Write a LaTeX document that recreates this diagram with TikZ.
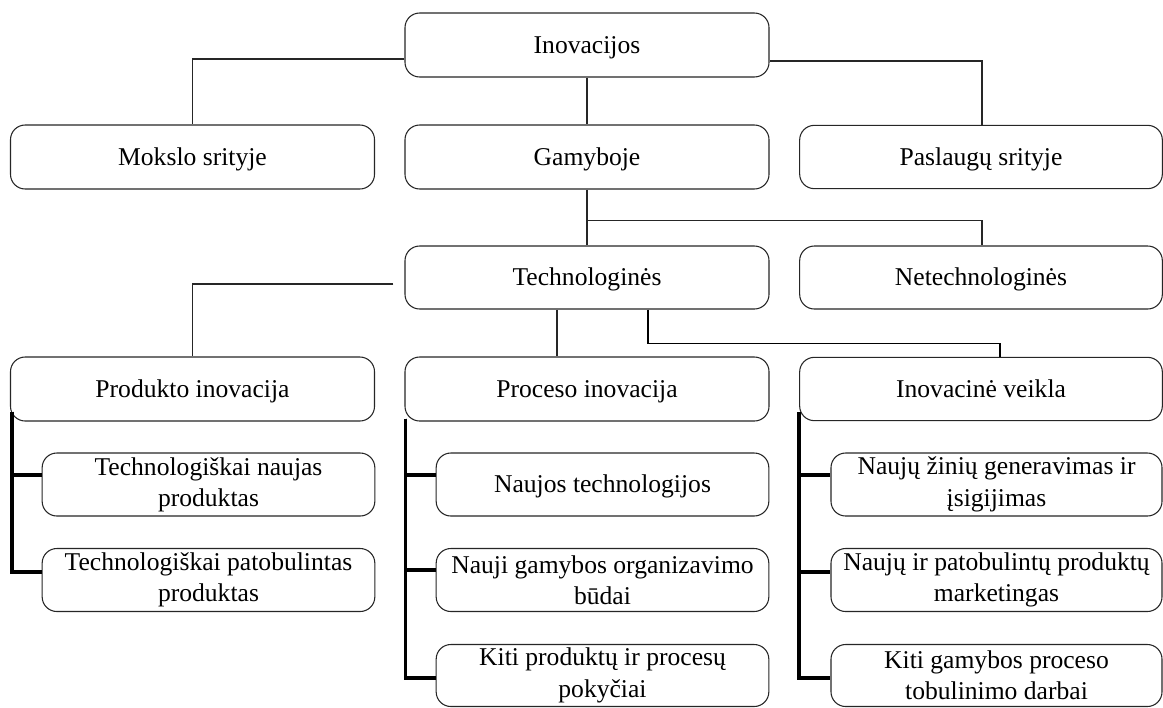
\documentclass[tikz,border=0pt]{standalone}
\usepackage{fontspec}
\setmainfont{Liberation Serif}
\usetikzlibrary{calc}
\begin{document}
\begin{tikzpicture}[x=0.75pt,y=-0.75pt,
  box/.style={draw=black!85, line width=0.8pt, rounded corners=11pt, align=center,
    inner sep=0pt, fill=white, font=\fontsize{19.2}{23.5}\selectfont},
  one/.style={text height=12.7pt, text depth=0pt},
  wide/.style={box, one, minimum width=273pt, minimum height=48pt},
  wider/.style={box, one, minimum width=272pt, minimum height=47.5pt},
  child/.style={box, minimum width=249.5pt, minimum height=47.25pt},
  conn/.style={draw=black!85, line width=0.8pt},
  mid/.style={draw=black, line width=1.4pt},
  br/.style={draw=black, line width=2.5pt}
]
\useasboundingbox (0,0) rectangle (1163,707);

% level 1
\node[wide] (ino) at (587,45) {Inovacijos};
% level 2
\node[wide] (mok) at (192.5,157) {Mokslo srityje};
\node[wide] (gam) at (587,157) {Gamyboje};
\node[wider] (pas) at (981,157) {Paslaugų srityje};
% level 3
\node[wide, minimum height=47.25pt] (tech) at (587,277.5) {Technologinės};
\node[wider, minimum height=47.25pt] (net) at (981,277.5) {Netechnologinės};
% level 4
\node[wide] (prod) at (192.5,389) {Produkto inovacija};
\node[wide] (proc) at (587,389) {Proceso inovacija};
\node[wider] (inov) at (981,389) {Inovacinė veikla};
% children
\node[child] (c11) at (208.5,484.5) {Technologiškai naujas\\produktas};
\node[child] (c12) at (208.5,580) {Technologiškai patobulintas\\produktas};
\node[child, one] (c21) at (602.5,484.5) {Naujos technologijos};
\node[child] (c22) at (602.5,580) {Nauji gamybos organizavimo\\būdai};
\node[child, minimum height=46.5pt] (c23) at (602.5,675.5) {Kiti produktų ir procesų\\pokyčiai};
\node[child, minimum width=248.25pt] (c31) at (996.5,484.5) {Naujų žinių generavimas ir\\įsigijimas};
\node[child, minimum width=248.25pt] (c32) at (996.5,580) {Naujų ir patobulintų produktų\\marketingas};
\node[child, minimum width=248.25pt, minimum height=46.5pt] (c33) at (996.5,675.5) {Kiti gamybos proceso\\tobulinimo darbai};

% connectors level 1 -> 2
\draw[conn] ($(ino.west)+(0,14)$) -| (mok.north);
\draw[conn] ($(ino.east)+(0,16)$) -| ($(pas.north)+(1,0)$);
\draw[conn] (ino.south) -- (gam.north);
% level 2 -> 3
\draw[conn] (gam.south) -- (tech.north);
\draw[conn] ($(gam.south)+(0,31)$) -| ($(net.north)+(1,0)$);
% level 3 -> 4
\draw[conn] ($(tech.west)+(-11,6.5)$) -| (prod.north);
\draw[conn] ($(tech.south)+(-30,0)$) -- ($(proc.north)+(-30,0)$);
\draw[mid] ($(tech.south)+(61,0)$) -- ++(0,34) -| ($(inov.north)+(19,0)$);

% brackets
\draw[br] ($(prod.south west)+(2,-10)$) |- ($(c12.west)+(0,-8)$);
\draw[br] ($(prod.south west)+(2,-10)$) |- ($(c11.west)+(0,-9.5)$);
\draw[br] ($(proc.south west)+(1,-3)$) |- ($(c23.west)+(0,2.5)$);
\draw[br] ($(proc.south west)+(1,-3)$) |- ($(c21.west)+(0,-9.5)$);
\draw[br] ($(proc.south west)+(1,-3)$) |- ($(c22.west)+(0,-10)$);
\draw[br] ($(inov.south west)+(0,-9)$) |- ($(c33.west)+(0,2.5)$);
\draw[br] ($(inov.south west)+(0,-9)$) |- ($(c31.west)+(0,-9.5)$);
\draw[br] ($(inov.south west)+(0,-9)$) |- ($(c32.west)+(0,-8)$);
\end{tikzpicture}
\end{document}
